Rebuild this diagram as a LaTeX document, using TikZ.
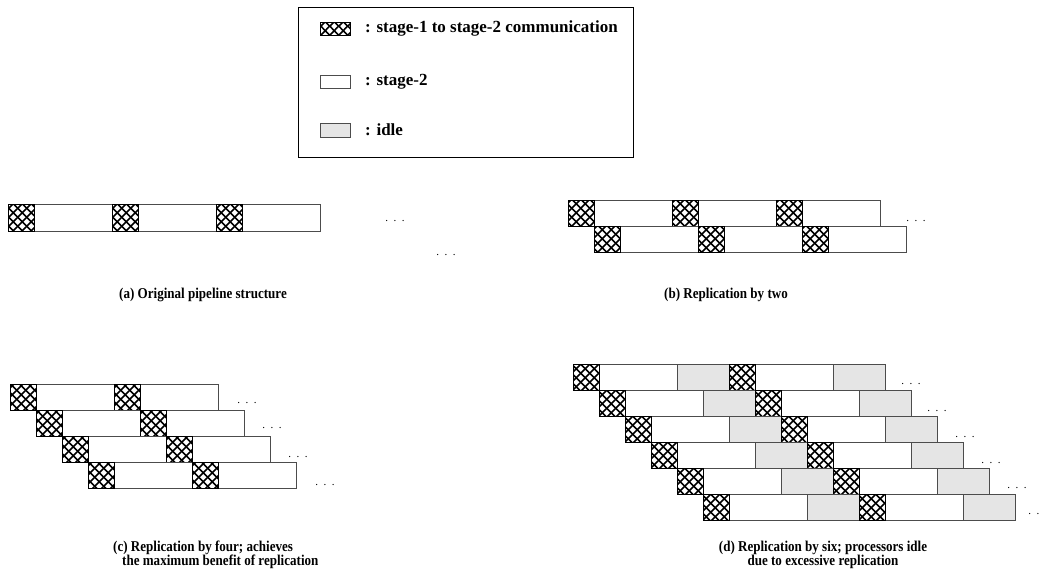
\documentclass[tikz,border=0pt]{standalone}
\usepackage{fontspec}
\setmainfont{Liberation Serif}
\newfontfamily\capfont[FakeStretch=0.87]{Liberation Serif}
\usetikzlibrary{patterns.meta}

\tikzdeclarepattern{
  name=diamondhatch,
  type=uncolored,
  bounding box={(0,0) and (8.667pt,8.667pt)},
  tile size={(8.667pt,8.667pt)},
  code={
    \draw[line width=1.6pt] (-1pt,-1pt) -- (9.667pt,9.667pt);
    \draw[line width=1.6pt] (-1pt,9.667pt) -- (9.667pt,-1pt);
  }
}

\newcommand{\commrow}[4]{%
  \foreach \p in {1,...,#4} {
    \pgfmathsetmacro\xa{#1+(\p-1)*104}
    \draw[whitecell] (\xa+26,#2) rectangle ++(78,#3);
    \draw[hatchcell] (\xa,#2) rectangle ++(26,#3);
  }%
}
\newcommand{\idlerow}[2]{%
  \foreach \p in {0,1} {
    \pgfmathsetmacro\xa{#1+\p*156}
    \draw[whitecell] (\xa+26,#2) rectangle ++(78,26);
    \draw[idlecell] (\xa+104,#2) rectangle ++(52,26);
    \draw[hatchcell] (\xa,#2) rectangle ++(26,26);
  }%
}

\begin{document}
\begin{tikzpicture}[x=1pt,y=-1pt,
  whitecell/.style={draw=black!70, line width=0.8pt, fill=white},
  idlecell/.style={draw=black!70, line width=0.8pt, fill=black!10},
  hatchcell/.style={draw=black, line width=1pt, fill=white, postaction={pattern=diamondhatch, pattern color=black}},
  dots/.style={font=\fontsize{11}{11}\selectfont, inner sep=0pt},
  legtext/.style={font=\bfseries\fontsize{17}{19}\selectfont, inner sep=0pt, anchor=west},
  caption/.style={font=\capfont\bfseries\fontsize{15}{14.5}\selectfont, inner sep=0pt}
]
\useasboundingbox (0,0) rectangle (1040,581);

% legend
\draw[line width=0.8pt] (298,7) rectangle (633,157);
\draw[hatchcell] (320,22) rectangle (350,35);
\draw[whitecell] (320,75) rectangle (350,88);
\draw[idlecell] (320,123) rectangle (350,137);
\node[legtext] (l1) at (365,28.5) {: stage-1 to stage-2 communication};
\node[legtext] (l2) at (365,81.5) {: stage-2};
\node[legtext] (l3) at (365,130) {: idle};

% (a)
\commrow{8}{204}{27}{3}
\node[dots] (da1) at (395,221) {.\hspace{5.5pt}.\hspace{5.5pt}.};
\node[dots] (da2) at (446,255) {.\hspace{5.5pt}.\hspace{5.5pt}.};
\node[caption] (capa) at (203,295) {(a) Original pipeline structure};

% (b)
\commrow{568}{200}{26}{3}
\commrow{594}{226}{26}{3}
\node[dots] (db) at (916,221) {.\hspace{5.5pt}.\hspace{5.5pt}.};
\node[caption] (capb) at (726,295) {(b) Replication by two};

% (c)
\commrow{10}{384}{26}{2}
\commrow{36}{410}{26}{2}
\commrow{62}{436}{26}{2}
\commrow{88}{462}{26}{2}
\node[dots] (dc1) at (247,403) {.\hspace{5.5pt}.\hspace{5.5pt}.};
\node[dots] (dc2) at (272,428) {.\hspace{5.5pt}.\hspace{5.5pt}.};
\node[dots] (dc3) at (298,457) {.\hspace{5.5pt}.\hspace{5.5pt}.};
\node[dots] (dc4) at (325,485) {.\hspace{5.5pt}.\hspace{5.5pt}.};
\node[caption, align=left, anchor=west] (capc) at (113,555) {(c) Replication by four; achieves\\\hspace{0.6em}the maximum benefit of replication};

% (d)
\idlerow{573}{364}
\idlerow{599}{390}
\idlerow{625}{416}
\idlerow{651}{442}
\idlerow{677}{468}
\idlerow{703}{494}
\node[dots] (dd1) at (911,384) {.\hspace{5.5pt}.\hspace{5.5pt}.};
\node[dots] (dd2) at (937,411) {.\hspace{5.5pt}.\hspace{5.5pt}.};
\node[dots] (dd3) at (965,437) {.\hspace{5.5pt}.\hspace{5.5pt}.};
\node[dots] (dd4) at (991,463) {.\hspace{5.5pt}.\hspace{5.5pt}.};
\node[dots] (dd5) at (1017,488) {.\hspace{5.5pt}.\hspace{5.5pt}.};
\node[dots] (dd6) at (1038,514) {.\hspace{5.5pt}.\hspace{5.5pt}.};
\node[caption, align=center] (capd) at (823,555) {(d) Replication by six; processors idle\\due to excessive replication};
\end{tikzpicture}
\end{document}
